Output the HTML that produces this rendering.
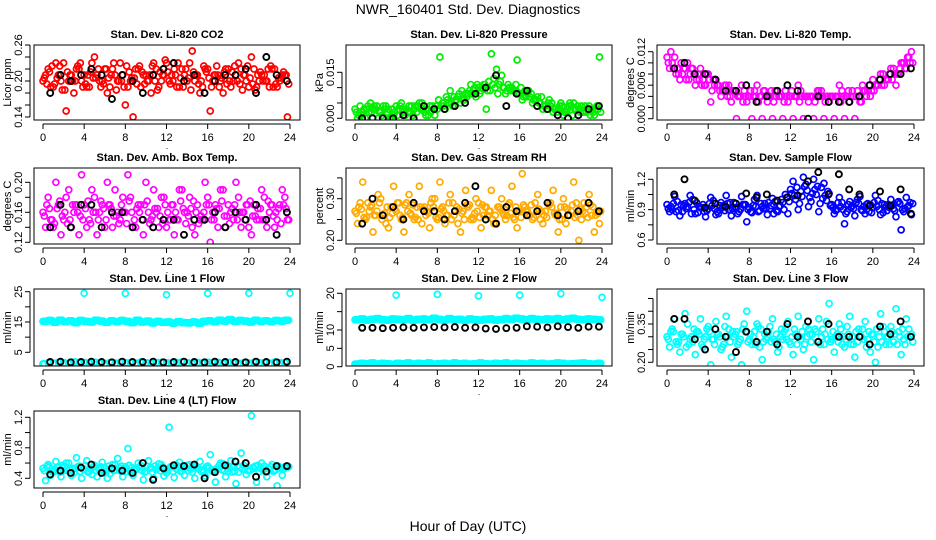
<!DOCTYPE html>
<html><head><meta charset="utf-8">
<style>
html,body{margin:0;padding:0;background:#fff;}
svg{display:block;font-family:"Liberation Sans",sans-serif;}
</style></head>
<body>
<svg id="chart" width="936" height="540" viewBox="0 0 936 540" xmlns="http://www.w3.org/2000/svg">
<rect width="936" height="540" fill="#fff"/>
<text x="468" y="14" text-anchor="middle" font-size="14">NWR_160401  Std. Dev. Diagnostics</text>
<text x="468" y="531" text-anchor="middle" font-size="14">Hour of Day (UTC)</text>
</svg>
<script>
// ---- data ----
const co2A=[0.20,0.22,0.19,0.21,0.23,0.20,0.18,0.22,0.21,0.19,0.24,0.20,0.22,0.19,0.21,0.23,0.16,0.20,0.22,0.19,0.21,0.18,0.22,0.20,0.23,0.21,0.19,0.22,0.20,0.25,0.21,0.19,0.22,0.20,0.21,0.18,0.22,0.20,0.23,0.21,0.19,0.22,0.20,0.21,0.19,0.22,0.20,0.21];
const co2B=[0.21,0.19,0.23,0.20,0.15,0.21,0.22,0.20,0.19,0.23,0.21,0.20,0.18,0.22,0.20,0.21,0.19,0.14,0.22,0.21,0.20,0.23,0.19,0.21,0.20,0.22,0.19,0.21,0.23,0.20,0.18,0.22,0.15,0.21,0.20,0.22,0.19,0.21,0.22,0.20,0.24,0.19,0.21,0.20,0.22,0.19,0.21,0.14];
const co2C=[0.205,0.215,0.195,0.225,0.185,0.210,0.200,0.230,0.195,0.215,0.205,0.190,0.220,0.210,0.185,0.200,0.225,0.205,0.195,0.215,0.200,0.225,0.185,0.210,0.215,0.200,0.230,0.190,0.205,0.215,0.195,0.225,0.205,0.210,0.190,0.215,0.200,0.225,0.195,0.210,0.205,0.185,0.215,0.200,0.225,0.195,0.205,0.210];
const co2D=[0.195,0.225,0.205,0.185,0.215,0.200,0.225,0.190,0.210,0.205,0.220,0.195,0.205,0.230,0.200,0.190,0.215,0.205,0.225,0.195,0.210,0.200,0.215,0.235,0.195,0.210,0.205,0.220,0.185,0.210,0.200,0.215,0.190,0.225,0.205,0.195,0.215,0.200,0.185,0.225,0.195,0.210,0.200,0.220,0.190,0.205,0.215,0.195];
const co2K=[0.18,0.21,0.20,0.21,0.22,0.21,0.17,0.21,0.20,0.18,0.21,0.22,0.23,0.20,0.21,0.18,0.20,0.21,0.21,0.22,0.18,0.24,0.21,0.20];
const presA=[0.003,0.004,0.000,0.005,0.003,0.002,0.004,0.000,0.004,0.005,0.003,0.004,0.002,0.005,0.003,0.004,0.003,0.005,0.006,0.004,0.007,0.006,0.008,0.009,0.010,0.011,0.012,0.013,0.011,0.010,0.010,0.009,0.008,0.009,0.007,0.006,0.005,0.004,0.004,0.003,0.005,0.002,0.004,0.003,0.004,0.002,0.003,0.004];
const presB=[0.000,0.002,0.004,0.003,0.000,0.004,0.003,0.001,0.003,0.002,0.004,0.003,0.005,0.002,0.004,0.001,0.020,0.003,0.009,0.006,0.005,0.008,0.011,0.007,0.009,0.003,0.021,0.016,0.014,0.009,0.010,0.019,0.006,0.008,0.005,0.007,0.003,0.005,0.002,0.003,0.001,0.004,0.005,0.003,0.002,0.004,0.001,0.020];
const presC=[0.002,0.001,0.003,0.002,0.004,0.001,0.002,0.003,0.001,0.003,0.002,0.001,0.004,0.003,0.001,0.003,0.006,0.004,0.005,0.007,0.008,0.006,0.009,0.010,0.008,0.011,0.009,0.010,0.012,0.008,0.009,0.011,0.010,0.007,0.008,0.006,0.007,0.003,0.005,0.002,0.004,0.003,0.001,0.004,0.002,0.003,0.002,0.003];
const presD=[0.001,0.003,0.002,0.004,0.002,0.003,0.000,0.002,0.004,0.001,0.002,0.004,0.003,0.001,0.002,0.004,0.004,0.007,0.005,0.006,0.009,0.007,0.008,0.011,0.010,0.009,0.011,0.008,0.010,0.011,0.009,0.008,0.007,0.009,0.006,0.005,0.004,0.006,0.003,0.004,0.002,0.005,0.003,0.002,0.004,0.001,0.003,0.002];
const presK=[0.000,0.000,0.000,0.000,0.001,0.000,0.004,0.003,0.003,0.004,0.005,0.008,0.010,0.014,0.004,0.008,0.009,0.004,0.003,0.001,0.000,0.001,0.003,0.004];
const tempA=[0.011,0.010,0.009,0.008,0.010,0.009,0.008,0.007,0.008,0.007,0.006,0.005,0.006,0.005,0.004,0.005,0.004,0.005,0.004,0.005,0.004,0.005,0.004,0.005,0.004,0.004,0.005,0.004,0.004,0.004,0.005,0.004,0.004,0.004,0.005,0.004,0.005,0.005,0.006,0.005,0.007,0.006,0.008,0.007,0.009,0.008,0.010,0.011];
const tempB=[0.009,0.011,0.007,0.009,0.008,0.006,0.009,0.006,0.003,0.007,0.004,0.006,0.003,0.000,0.006,0.003,0.000,0.006,0.000,0.003,0.000,0.005,0.000,0.003,0.000,0.006,0.000,0.003,0.000,0.005,0.000,0.003,0.000,0.006,0.000,0.003,0.000,0.003,0.005,0.004,0.006,0.008,0.007,0.009,0.006,0.010,0.009,0.012];
const tempC=[0.010,0.009,0.008,0.009,0.007,0.008,0.007,0.006,0.007,0.006,0.005,0.006,0.004,0.005,0.004,0.004,0.005,0.004,0.004,0.004,0.005,0.004,0.004,0.004,0.005,0.004,0.004,0.004,0.004,0.005,0.004,0.004,0.004,0.004,0.004,0.005,0.004,0.004,0.005,0.006,0.005,0.007,0.006,0.008,0.008,0.009,0.009,0.010];
const tempD=[0.012,0.008,0.010,0.007,0.009,0.007,0.006,0.008,0.005,0.006,0.005,0.004,0.005,0.004,0.003,0.004,0.004,0.003,0.005,0.004,0.003,0.004,0.003,0.004,0.004,0.003,0.004,0.004,0.003,0.004,0.003,0.004,0.004,0.003,0.004,0.004,0.004,0.003,0.004,0.005,0.006,0.006,0.007,0.007,0.008,0.010,0.011,0.010];
const tempK=[0.009,0.010,0.008,0.008,0.007,0.005,0.005,0.006,0.003,0.004,0.005,0.006,0.005,0.000,0.004,0.003,0.003,0.003,0.004,0.006,0.007,0.008,0.008,0.009];
const ambA=[0.16,0.18,0.14,0.17,0.15,0.19,0.16,0.13,0.17,0.15,0.18,0.16,0.14,0.17,0.19,0.15,0.16,0.18,0.14,0.17,0.20,0.15,0.16,0.18,0.14,0.17,0.15,0.19,0.16,0.14,0.17,0.15,0.18,0.16,0.14,0.19,0.17,0.15,0.18,0.16,0.14,0.17,0.15,0.18,0.16,0.14,0.17,0.18];
const ambB=[0.14,0.15,0.20,0.13,0.18,0.14,0.17,0.21,0.14,0.19,0.13,0.17,0.20,0.14,0.16,0.18,0.21,0.14,0.17,0.13,0.16,0.19,0.14,0.18,0.15,0.13,0.19,0.16,0.18,0.13,0.15,0.20,0.12,0.17,0.19,0.14,0.16,0.20,0.14,0.17,0.13,0.15,0.19,0.14,0.17,0.15,0.19,0.15];
const ambC=[0.155,0.165,0.145,0.175,0.160,0.150,0.170,0.155,0.165,0.145,0.160,0.175,0.150,0.165,0.155,0.170,0.145,0.160,0.165,0.150,0.175,0.155,0.165,0.145,0.160,0.170,0.150,0.165,0.155,0.175,0.145,0.160,0.170,0.150,0.165,0.155,0.145,0.170,0.160,0.150,0.175,0.155,0.165,0.150,0.170,0.160,0.145,0.165];
const ambD=[0.170,0.150,0.165,0.155,0.145,0.170,0.160,0.150,0.175,0.160,0.150,0.165,0.170,0.155,0.145,0.160,0.175,0.150,0.160,0.170,0.145,0.165,0.155,0.170,0.150,0.160,0.175,0.145,0.165,0.160,0.155,0.170,0.150,0.165,0.175,0.155,0.165,0.150,0.160,0.170,0.155,0.165,0.150,0.175,0.155,0.165,0.170,0.150];
const ambK=[0.14,0.17,0.14,0.17,0.17,0.14,0.16,0.16,0.14,0.15,0.14,0.15,0.15,0.13,0.15,0.15,0.16,0.14,0.16,0.15,0.17,0.15,0.13,0.16];
const rhA=[0.27,0.29,0.25,0.28,0.26,0.30,0.24,0.28,0.27,0.25,0.29,0.26,0.28,0.24,0.27,0.30,0.25,0.28,0.26,0.29,0.24,0.27,0.28,0.25,0.29,0.26,0.27,0.24,0.28,0.26,0.29,0.25,0.27,0.28,0.26,0.29,0.25,0.27,0.29,0.26,0.28,0.24,0.27,0.29,0.25,0.28,0.26,0.27];
const rhB=[0.24,0.34,0.29,0.22,0.31,0.26,0.23,0.33,0.29,0.22,0.31,0.25,0.33,0.28,0.23,0.30,0.34,0.24,0.31,0.27,0.22,0.32,0.25,0.30,0.23,0.28,0.32,0.24,0.30,0.26,0.33,0.23,0.36,0.27,0.25,0.31,0.24,0.29,0.32,0.22,0.30,0.26,0.34,0.20,0.29,0.31,0.22,0.24];
const rhC=[0.265,0.275,0.255,0.285,0.270,0.250,0.280,0.265,0.290,0.255,0.270,0.285,0.250,0.275,0.265,0.280,0.255,0.270,0.290,0.260,0.275,0.250,0.285,0.265,0.255,0.280,0.270,0.260,0.275,0.250,0.265,0.280,0.255,0.270,0.285,0.260,0.270,0.255,0.280,0.265,0.250,0.275,0.285,0.260,0.270,0.255,0.280,0.265];
const rhD=[0.280,0.255,0.270,0.260,0.290,0.265,0.255,0.275,0.260,0.285,0.265,0.255,0.280,0.260,0.290,0.255,0.275,0.260,0.250,0.280,0.265,0.285,0.255,0.270,0.285,0.260,0.250,0.280,0.265,0.285,0.255,0.270,0.285,0.260,0.255,0.275,0.260,0.285,0.265,0.250,0.280,0.260,0.255,0.275,0.265,0.285,0.260,0.270];
const rhK=[0.24,0.30,0.26,0.28,0.25,0.29,0.27,0.27,0.25,0.27,0.29,0.33,0.25,0.24,0.28,0.27,0.26,0.27,0.29,0.26,0.26,0.27,0.29,0.27];
const sfA=[0.95,0.90,0.98,0.88,0.93,1.00,0.87,0.95,0.91,0.99,0.86,0.94,0.90,0.97,0.88,0.95,0.92,1.00,0.89,0.96,0.91,0.98,0.94,1.05,1.10,1.00,1.08,1.15,0.98,1.05,1.12,0.99,0.95,0.90,0.97,0.88,0.94,1.00,0.89,0.96,0.92,0.99,0.87,0.95,0.91,0.98,0.88,0.94];
const sfB=[0.88,1.03,0.84,0.96,1.04,0.86,0.92,0.83,1.02,0.85,0.97,1.04,0.84,0.92,1.03,0.78,0.87,1.04,0.93,0.85,1.01,0.88,0.97,0.86,1.18,0.90,1.22,0.93,1.20,0.88,1.16,1.06,0.86,1.02,0.76,0.98,0.84,1.03,0.86,0.95,1.04,0.85,0.93,1.00,0.83,0.70,1.02,0.85];
const sfC=[0.91,0.96,0.89,0.94,0.97,0.90,0.93,0.88,0.96,0.91,0.94,0.89,0.97,0.92,0.90,0.95,0.88,0.93,0.96,0.91,0.94,0.89,1.00,1.02,1.06,1.12,1.03,1.09,1.06,1.13,1.01,1.08,0.92,0.97,0.90,0.95,0.91,0.96,0.93,0.88,0.97,0.90,0.95,0.92,0.89,0.96,0.91,0.97];
const sfD=[0.93,0.88,0.95,0.91,0.86,0.97,0.92,0.89,0.94,0.88,0.92,0.96,0.91,0.86,0.95,0.90,0.94,0.88,0.91,0.97,0.86,0.93,0.90,0.98,1.04,0.96,1.13,1.02,1.10,0.96,1.04,0.94,0.89,0.93,0.86,0.92,0.97,0.90,0.95,0.87,0.93,0.96,0.89,0.94,0.97,0.90,0.93,0.96];
const sfK=[1.05,1.20,0.99,0.92,0.96,0.93,0.96,1.06,1.02,1.05,0.99,1.02,1.04,1.18,1.27,1.05,1.25,1.10,1.05,0.94,1.08,0.94,1.10,0.86];
const l1A=[15.2,15.5,14.9,15.6,15.1,15.4,14.8,15.5,15.2,15.0,15.6,15.3,14.9,15.4,15.1,15.5,15.2,14.8,15.6,15.0,15.3,14.7,15.2,14.9,15.0,14.6,15.1,14.8,14.7,15.0,14.6,15.2,15.4,15.1,15.6,15.3,15.8,15.2,15.5,15.3,15.0,15.6,15.2,15.4,15.1,15.5,15.3,15.6];
const l1B=[1.2,1.6,1.4,1.7,1.5,1.3,1.8,1.5,1.6,1.4,1.7,1.5,1.3,1.6,1.4,1.7,1.5,1.6,1.4,1.8,1.5,1.3,1.6,1.7,1.5,1.4,1.6,1.8,1.5,1.3,1.6,1.4,1.7,1.5,1.6,1.4,1.7,1.5,1.3,1.6,1.4,1.7,1.5,1.6,1.4,1.8,1.5,1.6];
const l1K=[1.8,1.9,1.7,1.8,1.9,1.8,1.7,1.9,1.8,1.8,1.9,1.7,1.8,1.9,1.8,1.7,1.9,1.8,1.8,1.7,1.9,1.8,1.7,1.9];
const outHours=[4,8,12,16,20,24];
const l1Out=[24.5,24.4,24.0,24.4,24.5,24.5];
const l2A=[12.8,13.0,12.7,12.9,13.1,12.8,12.7,13.0,12.9,12.8,13.1,12.7,12.9,13.0,12.8,13.2,12.9,12.7,13.1,12.8,12.9,12.6,13.0,12.8,12.7,12.9,13.0,12.7,12.8,13.1,12.9,13.2,13.0,12.8,13.1,12.9,12.8,13.0,12.9,13.1,12.8,13.0,13.2,12.9,12.8,13.0,12.9,12.8];
const l2B=[0.7,0.9,0.8,1.0,0.7,0.9,0.8,0.6,0.9,0.8,1.0,0.7,0.9,0.8,1.0,0.7,0.8,0.9,0.7,1.0,0.8,0.9,0.7,0.8,1.0,0.8,0.7,0.9,0.8,1.0,0.7,0.9,0.8,0.7,1.0,0.8,0.9,0.7,0.8,1.0,0.9,0.7,0.8,0.9,1.0,0.8,0.7,0.9];
const l2K=[10.6,10.6,10.5,10.6,10.7,10.6,10.7,10.8,10.7,10.8,10.6,10.7,10.4,10.3,10.5,10.6,11.0,10.9,10.7,11.0,10.8,10.6,10.9,10.9];
const l2Out=[19.5,19.7,19.3,19.5,19.9,18.9];
const l3A=[0.30,0.33,0.27,0.31,0.35,0.28,0.32,0.26,0.34,0.29,0.31,0.27,0.33,0.30,0.28,0.35,0.29,0.32,0.26,0.31,0.34,0.28,0.30,0.33,0.27,0.31,0.29,0.34,0.28,0.32,0.30,0.36,0.29,0.31,0.27,0.34,0.30,0.28,0.33,0.29,0.31,0.26,0.34,0.30,0.28,0.32,0.29,0.33];
const l3B=[0.26,0.37,0.24,0.39,0.29,0.23,0.37,0.30,0.19,0.36,0.25,0.38,0.22,0.32,0.19,0.40,0.27,0.35,0.21,0.30,0.37,0.24,0.29,0.36,0.23,0.38,0.25,0.33,0.21,0.37,0.27,0.43,0.24,0.35,0.26,0.38,0.22,0.30,0.36,0.24,0.20,0.39,0.27,0.34,0.41,0.23,0.37,0.31];
const l3C=[0.29,0.32,0.28,0.30,0.27,0.33,0.31,0.29,0.32,0.27,0.30,0.34,0.28,0.31,0.29,0.32,0.31,0.27,0.33,0.29,0.28,0.31,0.33,0.29,0.30,0.27,0.32,0.30,0.31,0.28,0.33,0.29,0.32,0.28,0.30,0.31,0.27,0.33,0.29,0.32,0.28,0.30,0.32,0.27,0.31,0.30,0.27,0.30];
const l3D=[0.32,0.28,0.31,0.26,0.30,0.32,0.27,0.33,0.29,0.31,0.26,0.30,0.32,0.27,0.33,0.28,0.30,0.34,0.28,0.32,0.29,0.26,0.32,0.28,0.33,0.30,0.27,0.31,0.33,0.27,0.31,0.28,0.30,0.33,0.29,0.27,0.32,0.30,0.26,0.31,0.33,0.28,0.30,0.32,0.27,0.33,0.30,0.28];
const l3K=[0.37,0.37,0.29,0.25,0.33,0.30,0.24,0.32,0.28,0.32,0.27,0.35,0.30,0.36,0.28,0.35,0.30,0.30,0.30,0.27,0.34,0.31,0.36,0.30];
const l4A=[0.53,0.58,0.48,0.55,0.50,0.60,0.47,0.56,0.52,0.49,0.57,0.51,0.54,0.46,0.58,0.50,0.55,0.48,0.53,0.57,0.49,0.54,0.51,0.58,0.47,0.55,0.52,0.50,0.57,0.48,0.54,0.51,0.56,0.49,0.53,0.59,0.50,0.55,0.48,0.57,0.51,0.53,0.49,0.56,0.52,0.50,0.54,0.55];
const l4B=[0.37,0.44,0.62,0.42,0.60,0.44,0.67,0.40,0.63,0.45,0.42,0.61,0.40,0.58,0.66,0.42,0.79,0.44,0.60,0.38,0.63,0.40,0.59,0.43,1.07,0.41,0.61,0.44,0.58,0.40,0.62,0.43,0.71,0.35,0.60,0.42,0.63,0.33,0.73,0.45,1.22,0.35,0.60,0.42,0.58,0.30,0.44,0.55];
const l4C=[0.50,0.55,0.52,0.48,0.56,0.51,0.53,0.49,0.57,0.52,0.50,0.55,0.48,0.53,0.51,0.56,0.49,0.54,0.52,0.50,0.56,0.48,0.53,0.55,0.51,0.49,0.56,0.53,0.50,0.55,0.52,0.48,0.54,0.51,0.57,0.50,0.53,0.49,0.55,0.52,0.50,0.56,0.53,0.48,0.55,0.51,0.53,0.54];
const l4D=[0.56,0.49,0.54,0.57,0.50,0.53,0.55,0.52,0.48,0.55,0.53,0.49,0.56,0.50,0.54,0.52,0.57,0.50,0.55,0.48,0.53,0.56,0.50,0.52,0.55,0.58,0.49,0.54,0.52,0.56,0.49,0.55,0.50,0.53,0.51,0.55,0.48,0.56,0.52,0.50,0.54,0.57,0.51,0.53,0.49,0.56,0.52,0.55];
const l4K=[0.45,0.50,0.47,0.54,0.58,0.47,0.53,0.50,0.47,0.60,0.38,0.53,0.57,0.56,0.58,0.40,0.48,0.57,0.62,0.60,0.42,0.49,0.56,0.56];
const xTickLabels=["0","4","8","12","16","20","24"];
const xTicks=[0,4,8,12,16,20,24];

// ---- layout ----
const svg=document.getElementById('chart');
const NS='http://www.w3.org/2000/svg';
const cols=[{l:34,r:300,x0:43,x24:290},{l:346,r:612,x0:355,x24:602},{l:657,r:924,x0:667,x24:914}];
const rows=[{t:45,b:120},{t:168,b:244},{t:289,b:366},{t:411,b:488}];
const hA=co2A.map((_,i)=>i*0.5);
const hB=co2A.map((_,i)=>i*0.5+0.25);
const hC=co2A.map((_,i)=>i*0.5+0.125);
const hD=co2A.map((_,i)=>i*0.5+0.375);
const hourK=co2K.map((_,i)=>i+0.7);

const panels=[
 {name:'co2',title:'Stan. Dev. Li-820 CO2',ylab:'Licor ppm',c:0,r:0,cal:[0.14,117,0.20,81],ticks:[0.14,0.16,0.18,0.20,0.22,0.24,0.26],labels:{'0.14':'0.14','0.2':'0.20','0.26':'0.26'},col:'#ff0000',ser:[[hA,co2A],[hB,co2B],[hC,co2C],[hD,co2D]],blk:co2K},
 {name:'pressure',title:'Stan. Dev. Li-820 Pressure',ylab:'kPa',c:1,r:0,cal:[0,118.3,0.015,72.3],ticks:[0,0.005,0.01,0.015],labels:{'0':'0.000','0.015':'0.015'},col:'#00ee00',ser:[[hA,presA],[hB,presB],[hC,presC],[hD,presD]],blk:presK},
 {name:'temp',title:'Stan. Dev. Li-820 Temp.',ylab:'degrees C',c:2,r:0,cal:[0,118.7,0.012,51.7],ticks:[0,0.002,0.004,0.006,0.008,0.01,0.012],labels:{'0':'0.000','0.006':'0.006','0.012':'0.012'},col:'#ff00ff',ser:[[hA,tempA],[hB,tempB],[hC,tempC],[hD,tempD]],blk:tempK},
 {name:'amb-box-temp',title:'Stan. Dev. Amb. Box Temp.',ylab:'degrees C',c:0,r:1,cal:[0.12,242.3,0.20,182.3],ticks:[0.12,0.14,0.16,0.18,0.20],labels:{'0.12':'0.12','0.16':'0.16','0.2':'0.20'},col:'#ff00ff',ser:[[hA,ambA],[hB,ambB],[hC,ambC],[hD,ambD]],blk:ambK},
 {name:'gas-rh',title:'Stan. Dev. Gas Stream RH',ylab:'percent',c:1,r:1,cal:[0.20,240.3,0.30,198.7],ticks:[0.20,0.25,0.30,0.35],labels:{'0.2':'0.20','0.3':'0.30'},col:'#ffaa00',ser:[[hA,rhA],[hB,rhB],[hC,rhC],[hD,rhD]],blk:rhK},
 {name:'sample-flow',title:'Stan. Dev. Sample Flow',ylab:'ml/min',c:2,r:1,cal:[0.6,240,1.2,179.3],ticks:[0.6,0.75,0.9,1.05,1.2],labels:{'0.6':'0.6','0.9':'0.9','1.2':'1.2'},col:'#0000ff',ser:[[hA,sfA],[hB,sfB],[hC,sfC],[hD,sfD]],blk:sfK},
 {name:'line1-flow',title:'Stan. Dev. Line 1 Flow',ylab:'ml/min',c:0,r:2,cal:[5,352.3,25,291.7],ticks:[5,10,15,20,25],labels:{'5':'5','15':'15','25':'25'},col:'#00ffff',ser:[[hA,l1A],[hB,l1A],[hC,l1A],[hD,l1A],[hA,l1B],[hC,l1B],[outHours,l1Out]],blk:l1K},
 {name:'line2-flow',title:'Stan. Dev. Line 2 Flow',ylab:'ml/min',c:1,r:2,cal:[0,366.7,20,293.3],ticks:[0,5,10,15,20],labels:{'0':'0','5':'5','10':'10','20':'20'},col:'#00ffff',ser:[[hA,l2A],[hB,l2A],[hC,l2A],[hD,l2A],[hA,l2B],[hB,l2B],[hC,l2B],[hD,l2B],[outHours,l2Out]],blk:l2K},
 {name:'line3-flow',title:'Stan. Dev. Line 3 Flow',ylab:'ml/min',c:2,r:2,cal:[0.20,362.3,0.35,324],ticks:[0.20,0.25,0.30,0.35,0.40,0.45],labels:{'0.2':'0.20','0.35':'0.35'},col:'#00ffff',ser:[[hA,l3A],[hB,l3B],[hC,l3C],[hD,l3D]],blk:l3K},
 {name:'line4-flow',title:'Stan. Dev. Line 4 (LT) Flow',ylab:'ml/min',c:0,r:3,cal:[0.4,478.3,1.2,417.3],ticks:[0.4,0.6,0.8,1.0,1.2],labels:{'0.4':'0.4','0.8':'0.8','1.2':'1.2'},col:'#00ffff',ser:[[hA,l4A],[hB,l4B],[hC,l4C],[hD,l4D]],blk:l4K}
];

function mk(tag,attrs,parent){const e=document.createElementNS(NS,tag);for(const k in attrs)e.setAttribute(k,attrs[k]);parent.appendChild(e);return e;}

panels.forEach(p=>{
 const C=cols[p.c],R=rows[p.r];
 const g=mk('g',{},svg);
 
 
 const xs=v=>C.x0+(C.x24-C.x0)*v/24;
 const ys=v=>p.cal[1]+(v-p.cal[0])*(p.cal[3]-p.cal[1])/(p.cal[2]-p.cal[0]);
 const clip='clip-'+p.name;
 const cp=mk('clipPath',{id:clip},g);
 mk('rect',{x:C.l,y:R.t,width:C.r-C.l,height:R.b-R.t},cp);
 const pts=mk('g',{'clip-path':'url(#'+clip+')'},g);
 
 
 p.ser.forEach(s=>{
  s[1].forEach((v,i)=>{
   const c=mk('circle',{cx:xs(s[0][i]),cy:ys(v),r:3,fill:'none',stroke:p.col,'stroke-width':1.7},pts);
   
   
  });
 });
 p.blk.forEach((v,i)=>{
  const c=mk('circle',{cx:xs(hourK[i]),cy:ys(v),r:3,fill:'none',stroke:'#000','stroke-width':1.9},pts);
  
  
 });
 const box=mk('rect',{x:C.l,y:R.t,width:C.r-C.l,height:R.b-R.t,fill:'none',stroke:'#000','stroke-width':1},g);
 
 
 const t=mk('text',{x:(C.l+C.r)/2,y:R.t-7,'text-anchor':'middle','font-size':11,'font-weight':'bold'},g);
 t.textContent=p.title;
 
 
 mk('line',{x1:xs(0),x2:xs(24),y1:R.b+4,y2:R.b+4,stroke:'#000'},g);
 xTicks.forEach((v,i)=>{
  mk('line',{x1:xs(v),x2:xs(v),y1:R.b+4,y2:R.b+9,stroke:'#000'},g);
  const tl=mk('text',{x:xs(v),y:R.b+21,'text-anchor':'middle','font-size':11},g);
  tl.textContent=xTickLabels[i];
  
  
 });
 const dot=mk('text',{x:(C.l+C.r)/2,y:R.b+29,'text-anchor':'middle','font-size':9},g);
 dot.textContent='.';
 const ax=C.l-4;
 mk('line',{x1:ax,x2:ax,y1:ys(p.ticks[0]),y2:ys(p.ticks[p.ticks.length-1]),stroke:'#000'},g);
 p.ticks.forEach(v=>{
  const y=ys(v);
  mk('line',{x1:ax-5,x2:ax,y1:y,y2:y,stroke:'#000'},g);
  const key=String(+v.toFixed(4));
  if(p.labels[key]!==undefined){
   const yl=mk('text',{x:0,y:0,'text-anchor':'middle','font-size':11,transform:'translate('+(C.l-12)+','+y+') rotate(-90)'},g);
   yl.textContent=p.labels[key];
   
   
  }
 });
 const yt=mk('text',{x:0,y:0,'text-anchor':'middle','font-size':11,transform:'translate('+(C.l-23)+','+((R.t+R.b)/2)+') rotate(-90)'},g);
 yt.textContent=p.ylab;
 
 
});
</script>
</body></html>
